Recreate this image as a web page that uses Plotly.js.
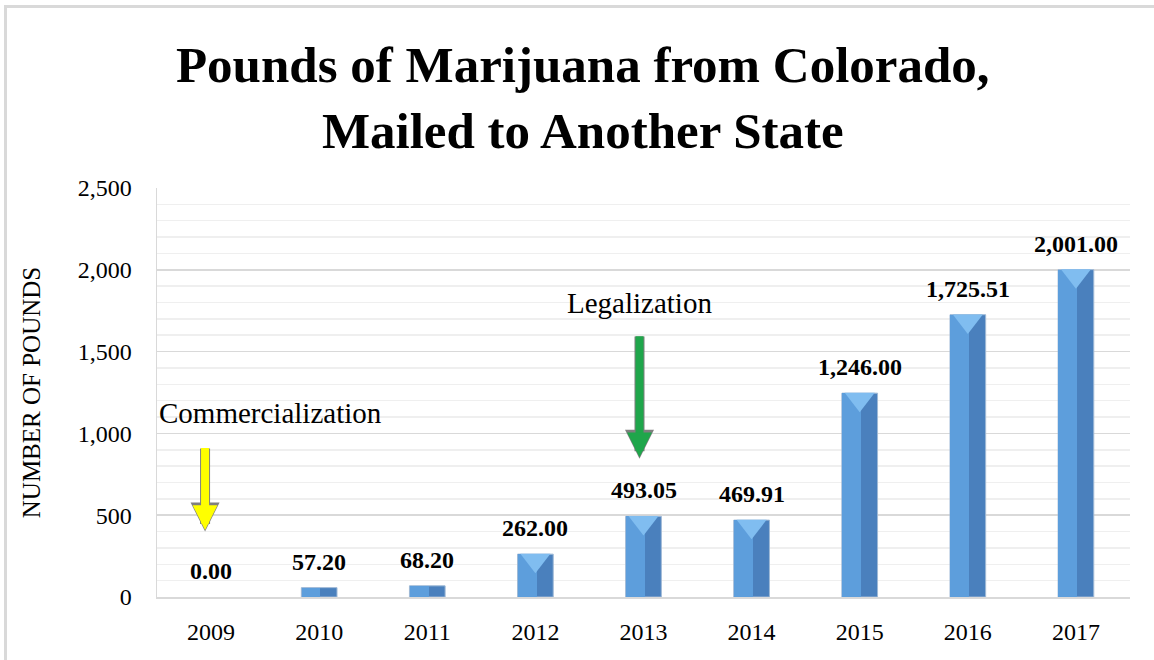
<!DOCTYPE html>
<html>
<head>
<meta charset="utf-8">
<script src="https://cdn.plot.ly/plotly-3.0.1.min.js"></script>
<style>
  html, body { margin: 0; padding: 0; background: #ffffff; }
  #wrap { position: relative; width: 1154px; height: 660px; }
  #chart { position: absolute; left: 0; top: 0; width: 1154px; height: 660px; }
  #frame { position: absolute; left: 4px; top: 5px; width: 1150px; height: 655px;
           border-left: 3px solid #d9d9d9; border-top: 3px solid #d9d9d9; pointer-events: none; }
</style>
</head>
<body>
<div id="wrap">
  <div id="chart"></div>
  <div id="frame"></div>
</div>
<script>
// ---- data ----
const years = ['2009', '2010', '2011', '2012', '2013', '2014', '2015', '2016', '2017'];
const pounds = [0.00, 57.20, 68.20, 262.00, 493.05, 469.91, 1246.00, 1725.51, 2001.00];
const yTickVals = [0, 500, 1000, 1500, 2000, 2500];
const chartTitle = 'Pounds of Marijuana from Colorado,<br>Mailed to Another State';
const yTitle = 'NUMBER OF POUNDS';
const events = [
  { label: 'Commercialization', year: '2009', textY: 1125, arrowFrom: 917, arrowTo: 400, color: '#ffff00' },
  { label: 'Legalization', year: '2013', textY: 1797, arrowFrom: 1601, arrowTo: 845, color: '#1fa64b' }
];

const serif = '"Liberation Serif", "Times New Roman", serif';

// ---- traces ----
const barBack = {
  type: 'bar', x: years, y: pounds, width: 0.33,
  marker: { color: '#4a80bd', line: { color: '#9fb9d6', width: pounds.map(v => (v > 0 ? 1 : 0)) } },
  hoverinfo: 'skip', showlegend: false
};
const barFront = {
  type: 'bar', x: years, y: pounds, width: 0.175, offset: -0.163,
  marker: { color: '#5d9edc', line: { width: 0 } },
  hoverinfo: 'skip', showlegend: false
};
const triTops = {
  type: 'scatter', mode: 'markers', x: years,
  y: pounds.map(v => (v >= 200 ? v : null)),
  yaxis: 'y2',
  marker: { symbol: 'triangle-down', size: 26, color: '#80bdf0', line: { width: 0 } },
  hoverinfo: 'skip', showlegend: false
};

// ---- annotations ----
const fmt = v => v.toLocaleString('en-US', { minimumFractionDigits: 2, maximumFractionDigits: 2 });
const annotations = [];
years.forEach((yr, i) => {
  annotations.push({
    x: i, y: pounds[i], xref: 'x', yref: 'y', text: '<b>' + fmt(pounds[i]) + '</b>',
    showarrow: false, yanchor: 'bottom', yshift: 11,
    font: { family: serif, size: 24, color: '#000000' }
  });
});
events.forEach((ev, k) => {
  const xi = years.indexOf(ev.year);
  const xs = k === 0 ? -6 : -4;
  // gray outline arrow
  annotations.push({
    x: xi, y: ev.arrowTo, xref: 'x', yref: 'y', xshift: xs,
    ax: 0, ay: ev.arrowFrom, axref: 'pixel', ayref: 'y',
    text: '', showarrow: true, arrowhead: 2, arrowsize: 0.58, arrowwidth: 10, arrowcolor: '#7f7f7f'
  });
  annotations.push({
    x: xi, y: ev.arrowTo, xref: 'x', yref: 'y', xshift: xs, yshift: 1.5,
    ax: 0, ay: ev.arrowFrom - 7, axref: 'pixel', ayref: 'y',
    text: '', showarrow: true, arrowhead: 2, arrowsize: 0.62, arrowwidth: 8, arrowcolor: ev.color
  });
  annotations.push({
    x: k === 0 ? xi - 0.5 : xi, y: ev.textY, xref: 'x', yref: 'y',
    xanchor: k === 0 ? 'left' : 'center', xshift: k === 0 ? 0 : -4,
    text: ev.label, showarrow: false,
    font: { family: serif, size: 29, color: '#000000' }
  });
});

const layout = {
  width: 1154, height: 660,
  margin: { l: 157, r: 24, t: 188, b: 63, pad: 0 },
  paper_bgcolor: '#ffffff', plot_bgcolor: '#ffffff',
  barmode: 'overlay', bargap: 0,
  title: {
    text: '<b>' + chartTitle + '</b>',
    x: 0.505, xanchor: 'center', y: 0.8765, yanchor: 'middle', yref: 'container',
    font: { family: serif, size: 51, color: '#000000' }
  },
  xaxis: {
    type: 'category', categoryorder: 'array', categoryarray: years,
    range: [-0.5, years.length - 0.5], autorange: false,
    showline: true, linecolor: '#d9d9d9', linewidth: 1.5,
    showgrid: false, ticks: '', ticklabelstandoff: 13,
    tickfont: { family: serif, size: 24, color: '#000000' },
    fixedrange: true
  },
  yaxis: {
    range: [0, 2500], autorange: false, tickvals: yTickVals, tickformat: ',d',
    showline: true, linecolor: '#d9d9d9', linewidth: 1.5,
    showgrid: true, gridcolor: '#d9d9d9', gridwidth: 1.5,
    zeroline: false, ticks: '', ticklabelstandoff: 19,
    tickfont: { family: serif, size: 24, color: '#000000' },
    minor: { dtick: 100, showgrid: true, gridcolor: '#efefef', gridwidth: 1.5 },
    title: { text: yTitle, font: { family: serif, size: 25, color: '#000000' }, standoff: 30 },
    fixedrange: true
  },
  yaxis2: {
    overlaying: 'y', range: [38, 2538], autorange: false, visible: false, fixedrange: true
  },
  annotations: annotations,
  showlegend: false
};

Plotly.newPlot('chart', [barBack, barFront, triTops], layout, { displayModeBar: false, staticPlot: true });
</script>
</body>
</html>
